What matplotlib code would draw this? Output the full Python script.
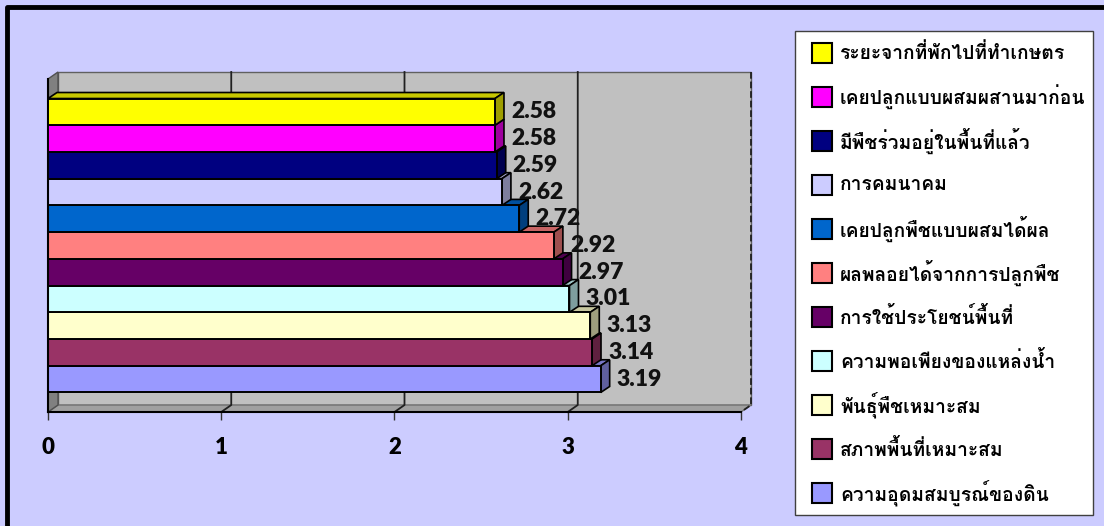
import matplotlib
matplotlib.use("Agg")
import matplotlib.pyplot as plt
from matplotlib import font_manager as fm
from matplotlib.ft2font import FT2Font
from matplotlib.patches import Rectangle, Polygon
from matplotlib.lines import Line2D
import matplotlib.transforms as mtransforms

# Data, top bar first
labels = [
    "ระยะจากที่พักไปที่ทำเกษตร",
    "เคยปลูกแบบผสมผสานมาก่อน",
    "มีพืชร่วมอยู่ในพื้นที่แล้ว",
    "การคมนาคม",
    "เคยปลูกพืชแบบผสมได้ผล",
    "ผลพลอยได้จากการปลูกพืช",
    "การใช้ประโยชน์พื้นที่",
    "ความพอเพียงของแหล่งน้ำ",
    "พันธุ์พืชเหมาะสม",
    "สภาพพื้นที่เหมาะสม",
    "ความอุดมสมบูรณ์ของดิน",
]
values = [2.58, 2.58, 2.59, 2.62, 2.72, 2.92, 2.97, 3.01, 3.13, 3.14, 3.19]
colors = ["#FFFF00", "#FF00FF", "#000080", "#CCCCFF", "#0066CC", "#FF8080",
          "#660066", "#CCFFFF", "#FFFFCC", "#993366", "#9999FF"]
xticks = [0, 1, 2, 3, 4]


# Find an installed font that has Thai glyphs
def find_thai_fonts():
    found = set()
    for f in fm.fontManager.ttflist:
        try:
            cmap = FT2Font(f.fname).get_charmap()
        except Exception:
            continue
        if 0x0E01 in cmap:
            found.add(f.name)
    return found


thai_fonts = find_thai_fonts()
# TLWG fonts place the tone marks well without text shaping
preferred = ["Loma", "Kinnari", "Norasi", "Garuda", "Laksaman", "Sarabun",
             "Noto Sans Thai Looped", "Noto Sans Thai"]
thai_name = None
for name in preferred:
    if name in thai_fonts:
        thai_name = name
        break
if thai_name is None and thai_fonts:
    thai_name = sorted(thai_fonts)[0]
thai_family = [thai_name, "DejaVu Sans"] if thai_name else ["DejaVu Sans"]

W, H = 1104, 526
fig = plt.figure(figsize=(W / 100, H / 100), dpi=100)
fig.patch.set_facecolor("#CCCCFF")

# front plane of the 3D plot, in pixels from top-left
x0_px, x1_px = 48, 741
top_px, bot_px = 79, 412
ax = fig.add_axes([x0_px / W, 1 - bot_px / H, (x1_px - x0_px) / W, (bot_px - top_px) / H])
ax.patch.set_visible(False)

n = len(values)
gap = 0.73
y_top = -0.5 - gap
y_bot = n - 0.5 + gap
ax.set_xlim(0, 4)
ax.set_ylim(y_bot, y_top)


def depth(dx_px, dy_px):
    inv = ax.transData.inverted()
    a = inv.transform((0, 0))
    b = inv.transform((dx_px, dy_px))
    return b[0] - a[0], b[1] - a[1]


wdx, wdy = depth(10, 7)   # walls
bdx, bdy = depth(9, 6)    # bars

# back wall, floor, side wall
ax.add_patch(Rectangle((wdx, y_top + wdy), 4, y_bot - y_top, facecolor="#C0C0C0",
                       edgecolor="#606060", lw=1, clip_on=False, zorder=1))
ax.add_patch(Polygon([(0, y_bot), (4, y_bot), (4 + wdx, y_bot + wdy), (wdx, y_bot + wdy)],
                     closed=True, facecolor="#A0A0A0", edgecolor="#707070", lw=1,
                     clip_on=False, zorder=1.1))
ax.add_patch(Polygon([(0, y_top), (wdx, y_top + wdy), (wdx, y_bot + wdy), (0, y_bot)],
                     closed=True, facecolor="#808080", edgecolor="#505050", lw=1,
                     clip_on=False, zorder=1.1))

# gridlines on wall and floor
for v in xticks[1:]:
    ls = "--" if v == xticks[-1] else "-"
    ax.plot([v + wdx, v + wdx, v], [y_top + wdy, y_bot + wdy, y_bot], color="#202020",
            lw=1.3, ls=ls, clip_on=False, zorder=1.5)

# bars, bottom one first so upper bars cover the top faces below
for i in range(n - 1, -1, -1):
    v = values[i]
    c = matplotlib.colors.to_rgb(colors[i])
    top_c = tuple(ch * 0.78 for ch in c)
    side_c = tuple(ch * 0.62 for ch in c)
    yt, yb = i - 0.5, i + 0.5
    z = 2 + (n - i) * 0.1
    ax.add_patch(Polygon([(0, yt), (bdx, yt + bdy), (v + bdx, yt + bdy), (v, yt)], closed=True,
                         facecolor=top_c, edgecolor="black", lw=1.2, clip_on=False, zorder=z))
    ax.add_patch(Polygon([(v, yt), (v + bdx, yt + bdy), (v + bdx, yb + bdy), (v, yb)], closed=True,
                         facecolor=side_c, edgecolor="black", lw=1.2, clip_on=False, zorder=z + 0.01))
    ax.add_patch(Rectangle((0, yt), v, 1, facecolor=c, edgecolor="black", lw=1.4,
                           clip_on=False, zorder=z + 0.02))
    lab_tr = mtransforms.offset_copy(ax.transData, fig=fig, x=16, y=0, units="dots")
    ax.text(v, i, f"{v:.2f}", transform=lab_tr, ha="left", va="center",
            fontsize=16.5, fontweight="heavy", family="Lato", color="#111111", zorder=5)

# axes lines and ticks
for side in ["top", "right"]:
    ax.spines[side].set_visible(False)
ax.spines["left"].set_linewidth(1.5)
ax.spines["bottom"].set_linewidth(1.5)
ax.spines["left"].set_zorder(3)
ax.set_yticks([])
ax.set_xticks(xticks)
ax.set_xticklabels([str(t) for t in xticks], fontsize=16, fontweight="heavy", family="Lato")
ax.tick_params(axis="x", length=6, width=1, color="#333333", pad=12)

# outer frame (top and left edges only are in the picture)
fig.add_artist(Line2D([7 / W, 7 / W, 1.01], [-0.01, 1 - 6.5 / H, 1 - 6.5 / H],
                      transform=fig.transFigure, color="black", lw=3.5,
                      solid_joinstyle="round"))

# legend box
lx0, ly0, lx1, ly1 = 795, 31, 1093, 515
fig.add_artist(Rectangle((lx0 / W, 1 - ly1 / H), (lx1 - lx0) / W, (ly1 - ly0) / H,
                         transform=fig.transFigure, facecolor="white", edgecolor="#404040", lw=1))

# fit legend text so the widest label fills the box about as in the reference
renderer = fig.canvas.get_renderer()
probe = fig.text(0, 0, labels[1], fontsize=16, fontweight="bold", family=thai_family)
probe_w = probe.get_window_extent(renderer).width
probe.remove()
leg_size = 16 * 246 / probe_w

for k, (lab, col) in enumerate(zip(labels, colors)):
    cy = 53 + 44 * k
    fig.add_artist(Rectangle((812 / W, 1 - (cy + 10) / H), 20 / W, 20 / H,
                             transform=fig.transFigure, facecolor=col, edgecolor="black", lw=1.5))
    fig.text(840 / W, 1 - cy / H, lab, ha="left", va="center", fontsize=leg_size,
             fontweight="bold", family=thai_family)

fig.savefig("out.png", dpi=100, facecolor=fig.get_facecolor())
